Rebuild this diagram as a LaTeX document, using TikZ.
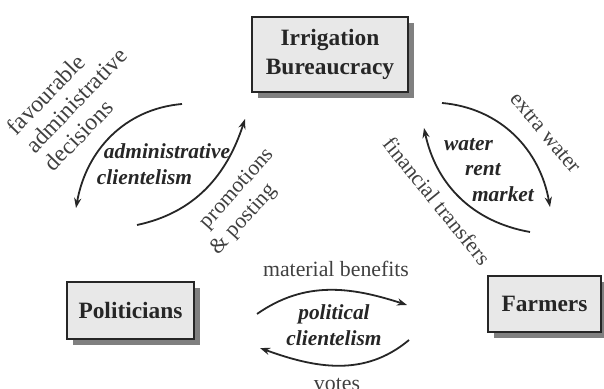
\documentclass[tikz,border=0pt]{standalone}
\usepackage{fontspec}
\setmainfont{Liberation Serif}
\usetikzlibrary{arrows.meta}
\usetikzlibrary{positioning}
\usetikzlibrary{shadows}

\begin{document}
\begin{tikzpicture}
    [x=0.5pt,y=0.5pt,
actor/.style={draw=black!85, line width=1pt, fill=black!9, align=center, text=black!85, font=\fontsize{11.7}{14.5}\selectfont\bfseries, drop shadow={shadow xshift=2.8pt,shadow yshift=-2.8pt,fill=black!50,opacity=1}},
flow/.style={align=center, text=black!75, font=\fontsize{10.9}{12.8}\selectfont},
relation/.style={align=left, text=black!85, font=\fontsize{10.7}{12.8}\selectfont\bfseries\itshape},
exchange/.style={line width=0.9pt, black!85, -{Stealth[length=5pt,width=3.6pt]}}
]

\useasboundingbox (0,0) rectangle (604,389);

\node[actor, minimum width=78pt, minimum height=37.5pt](bureau) at (330,334.5){Irrigation\\Bureaucracy};
\node[actor, minimum width=63.5pt, minimum height=28.5pt](politicians) at (130.5,78.5){Politicians};
\node[actor, minimum width=56.5pt, minimum height=28pt](farmers) at (544.5,85){Farmers};

% end points of the exchange arrows
\coordinate (decS) at (182,285);
\coordinate (decE) at (76,181);
\coordinate (proS) at (137,164);
\coordinate (proE) at (245,270);
\coordinate (watS) at (442,286);
\coordinate (watE) at (550,182);
\coordinate (finS) at (530,157);
\coordinate (finE) at (424,261);
\coordinate (benS) at (257,75);
\coordinate (benE) at (407,84);
\coordinate (votS) at (409,49);
\coordinate (votE) at (260,41);

\draw[exchange] (decS) to[out=185,in=80] (decE);
\draw[exchange] (proS) to[out=12,in=-108] (proE);
\draw[exchange] (watS) to[out=-5,in=100] (watE);
\draw[exchange] (finS) to[out=170,in=-78] (finE);
\draw[exchange] (benS) to[out=35,in=162] (benE);
\draw[exchange] (votS) to[out=-140,in=-20] (votE);

\node[relation](admin) at (163.5,225){\hspace*{3.5pt}administrative\\clientelism};
\node[relation](market) at (489,219){water\\\hspace*{10.5pt}rent\\\hspace*{14pt}market};
\node[relation, align=center](political) at (334,64){political\\clientelism};

\node[flow, align=left, rotate=46, font=\fontsize{11.8}{13}\selectfont](decisions) at (76,289){favourable\\administrative\\decisions};
\node[flow, align=left, rotate=48](promotions) at (243,187){\hspace*{6pt}promotions\\\& posting};
\node[flow, rotate=-50](extra) at (545,256){extra water};
\node[flow, rotate=-51](transfers) at (437,188){financial transfers};
\node[flow, anchor=base](benefits) at (336,112){material benefits};
\node[flow, anchor=base](votes) at (337,-2){votes};

\end{tikzpicture}
\end{document}
